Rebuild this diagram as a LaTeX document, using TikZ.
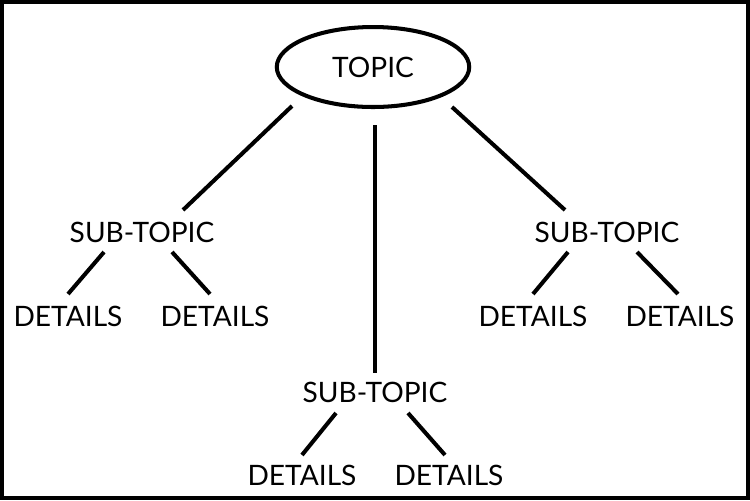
\documentclass[tikz,border=0pt]{standalone}
\usepackage{fontspec}
\setmainfont{Lato}
\usetikzlibrary{positioning,shapes.geometric,calc}
\begin{document}
\begin{tikzpicture}[
			x=0.02cm, y=-0.02cm,
			font=\fontsize{16}{19}\selectfont,
			% styles for the map
			topic/.style={ellipse, draw, line width=2.3pt, minimum width=3.85cm, minimum height=1.6cm},
			label/.style={inner sep=0pt},
			link/.style={line width=2.3pt}
			]
			\draw[line width=2.3pt] (2,2) rectangle (748,498);
			\useasboundingbox (0,0) rectangle (750,500);
			
			% --- Nodes ---
			\node (topic) [topic] at (373,67) {TOPIC};
			
			\node (subL) [label] at (142,232) {SUB-TOPIC};
			\node (subR) [label] at (607,232) {SUB-TOPIC};
			\node (subM) [label] at (375,392) {SUB-TOPIC};
			
			\node (detLa) [label] at (68,316) {DETAILS};
			\node (detLb) [label] at (215,316) {DETAILS};
			\node (detRa) [label] at (533,316) {DETAILS};
			\node (detRb) [label] at (680,316) {DETAILS};
			\node (detMa) [label] at (302,475) {DETAILS};
			\node (detMb) [label] at (449,475) {DETAILS};
			
			% --- Links ---
			\draw[link] ([shift={(-81,39)}]topic.center) -- ([shift={(41,-22)}]subL.center);
			\draw[link] (topic.south -| topic.center) ++(2,16) coordinate (tm) (tm) -- ([shift={(0,-19)}]subM.center);
			\draw[link] ([shift={(79,40)}]topic.center) -- ([shift={(-42,-22)}]subR.center);
			
			\draw[link] ([shift={(-38,20)}]subL.center) -- ([shift={(0,-22)}]detLa.center);
			\draw[link] ([shift={(30,20)}]subL.center) -- ([shift={(-5,-22)}]detLb.center);
			\draw[link] ([shift={(-39,20)}]subR.center) -- ([shift={(0,-22)}]detRa.center);
			\draw[link] ([shift={(30,20)}]subR.center) -- ([shift={(-2,-22)}]detRb.center);
			\draw[link] ([shift={(-39,21)}]subM.center) -- ([shift={(0,-20)}]detMa.center);
			\draw[link] ([shift={(33,21)}]subM.center) -- ([shift={(-4,-20)}]detMb.center);
		\end{tikzpicture}
\end{document}
